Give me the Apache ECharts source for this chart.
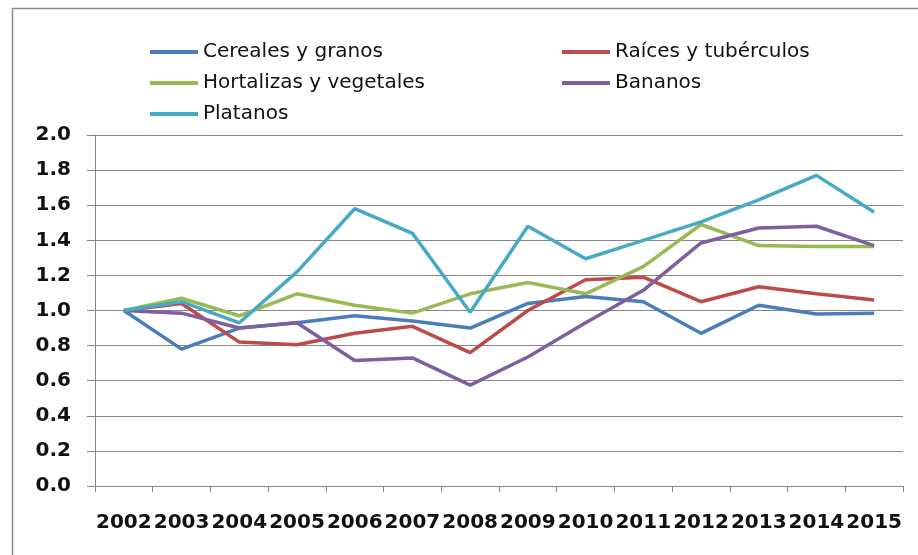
<!DOCTYPE html>
<html>
<head>
<meta charset="utf-8">
<script src="https://cdn.jsdelivr.net/npm/echarts@6/dist/echarts.min.js"></script>
<style>
  html, body { margin: 0; padding: 0; background: #fff; }
  #chart { width: 918px; height: 555px; }
</style>
</head>
<body>
<div id="chart"></div>
<script>
// Years on the horizontal axis
const years = ['2002','2003','2004','2005','2006','2007','2008','2009','2010','2011','2012','2013','2014','2015'];

// Index values per product group (2002 = 1.0)
const cereales   = [1.00, 0.78, 0.90, 0.93, 0.97, 0.94, 0.90, 1.04, 1.08, 1.05, 0.87, 1.03, 0.98, 0.985];
const raices     = [1.00, 1.04, 0.82, 0.805, 0.87, 0.91, 0.76, 1.00, 1.175, 1.19, 1.05, 1.135, 1.095, 1.06];
const hortalizas = [1.00, 1.07, 0.97, 1.095, 1.03, 0.985, 1.095, 1.16, 1.095, 1.25, 1.49, 1.37, 1.365, 1.365];
const bananos    = [1.00, 0.985, 0.90, 0.93, 0.715, 0.73, 0.575, 0.735, 0.93, 1.115, 1.385, 1.47, 1.48, 1.37];
const platanos   = [1.00, 1.05, 0.93, 1.22, 1.58, 1.44, 0.99, 1.48, 1.295, 1.40, 1.505, 1.63, 1.77, 1.56];

const names  = ['Cereales y granos', 'Raíces y tubérculos', 'Hortalizas y vegetales', 'Bananos', 'Platanos'];
const values = [cereales, raices, hortalizas, bananos, platanos];
const colors = ['#4A7EBB', '#BE4B48', '#98B954', '#7D60A0', '#46AAC5'];

const chart = echarts.init(document.getElementById('chart'), null, { renderer: 'canvas' });

const legendText = { fontFamily: 'DejaVu Sans', fontSize: 20, color: '#111', lineHeight: 22 };
const legendCommon = {
  orient: 'vertical',
  itemWidth: 48,
  itemHeight: 4,
  itemGap: 9,
  icon: 'rect',
  selectedMode: false,
  textStyle: legendText
};

chart.setOption({
  animation: false,
  color: colors,
  graphic: [{
    type: 'rect',
    shape: { x: 12.5, y: 8.5, width: 1000, height: 1000 },
    style: { fill: 'none', stroke: '#8a8a8a', lineWidth: 1.5 },
    silent: true,
    z: -10
  }],
  legend: [
    Object.assign({ left: 145, top: 36, data: [names[0], names[2], names[4]] }, legendCommon),
    Object.assign({ left: 557, top: 36, data: [names[1], names[3]] }, legendCommon)
  ],
  grid: { left: 95, right: 15, top: 135, bottom: 69, containLabel: false },
  xAxis: {
    type: 'category',
    data: years,
    boundaryGap: true,
    axisLine: { lineStyle: { color: '#868686', width: 1 } },
    axisTick: { show: true, length: 6, lineStyle: { color: '#868686' } },
    axisLabel: {
      margin: 27,
      fontFamily: 'DejaVu Sans',
      fontWeight: 'bold',
      fontSize: 20,
      color: '#111',
      interval: 0
    }
  },
  yAxis: {
    type: 'value',
    min: 0,
    max: 2,
    interval: 0.2,
    axisLine: { show: true, lineStyle: { color: '#868686', width: 1 } },
    axisTick: { show: true, length: 8, lineStyle: { color: '#868686' } },
    splitLine: { show: true, lineStyle: { color: '#868686', width: 1 } },
    axisLabel: {
      margin: 24,
      fontFamily: 'DejaVu Sans',
      fontWeight: 'bold',
      fontSize: 20,
      color: '#111',
      formatter: v => v.toFixed(1)
    }
  },
  series: names.map((n, i) => ({
    name: n,
    type: 'line',
    data: values[i],
    symbol: 'none',
    lineStyle: { width: 3.5, color: colors[i] },
    itemStyle: { color: colors[i] }
  }))
});
</script>
</body>
</html>
